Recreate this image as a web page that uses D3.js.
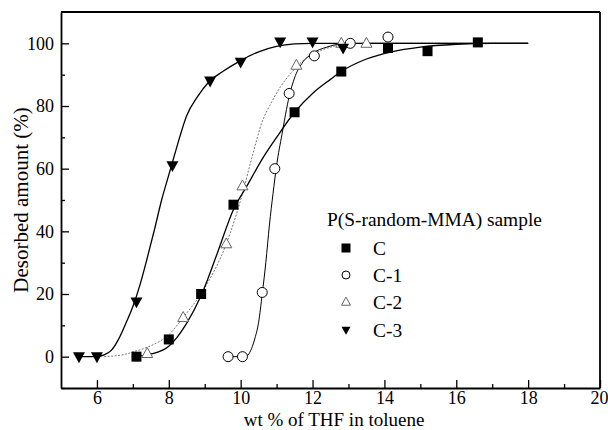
<!DOCTYPE html>
<html>
<head>
<meta charset="utf-8">
<script src="https://cdn.jsdelivr.net/npm/d3@7"></script>
<style>
  body { margin: 0; background: #fff; }
</style>
</head>
<body>
<svg id="chart" width="608" height="430"></svg>
<script>
var seriesNames = ["C", "C-1", "C-2", "C-3"]

var cX = [7.1, 8.0, 8.9, 9.8, 11.5, 12.8, 14.1, 15.2, 16.6]
var cY = [0, 5.5, 20, 48.5, 78, 91, 98.5, 97.5, 100.3]

var c1X = [9.65, 10.05, 10.6, 10.95, 11.35, 12.05, 13.05, 14.1]
var c1Y = [0, 0, 20.5, 60, 84, 96, 100, 102]

var c2X = [7.4, 8.4, 9.6, 10.05, 11.55, 12.8, 13.5]
var c2Y = [1, 12.5, 36, 54.5, 93, 100, 100]

var c3X = [5.5, 6.0, 7.1, 8.1, 9.15, 10.0, 11.1, 12.0, 12.85]
var c3Y = [0, 0, 17.5, 61, 88, 94, 100.5, 100.5, 98.5]

// fitted curves
var fitCX = [6.97, 7.5, 8.0, 8.5, 8.9, 9.35, 9.8, 10.15, 10.65, 11.0, 11.5, 12.0, 12.5, 12.8, 13.5, 14.2, 15.0, 16.0, 17.0, 18.0]
var fitCY = [0, 0.8, 3.3, 10.7, 19.5, 33, 47, 54, 64, 70, 78, 84, 88.5, 91, 95, 97.3, 98.8, 99.7, 100, 100]

var fitC1X = [9.65, 10.1, 10.2, 10.3, 10.4, 10.5, 10.6, 10.7, 10.8, 10.9, 11.0, 11.15, 11.35, 11.5, 11.7, 12.0, 12.4, 12.8, 13.5, 18.0]
var fitC1Y = [0, 0, 0.5, 2.5, 6, 11, 20, 30, 42, 52, 61, 71, 83, 89, 93.5, 96.8, 98.8, 99.8, 100, 100]

var fitC2X = [6.2, 6.8, 7.0, 7.5, 8.0, 8.4, 9.0, 9.6, 10.05, 10.3, 10.6, 10.85, 11.1, 11.4, 11.85, 12.3, 12.8, 13.5, 18.0]
var fitC2Y = [0, 0.8, 1.5, 3.5, 7, 12.5, 22, 36, 52, 63, 75, 81, 86, 90.5, 95.5, 98, 99.5, 100, 100]

var fitC3X = [5.5, 6.0, 6.2, 6.4, 6.6, 6.8, 7.0, 7.2, 7.4, 7.6, 7.8, 8.0, 8.2, 8.5, 8.8, 9.1, 9.5, 10.0, 10.5, 11.0, 11.5, 12.0, 18.0]
var fitC3Y = [0, 0, 0.6, 2, 5.5, 10.5, 16, 23, 31.5, 40.5, 50, 58, 66, 77, 83, 87.5, 91, 94.5, 97.3, 99, 99.8, 100, 100]

var xMajor = [6, 8, 10, 12, 14, 16, 18, 20]
var xMinor = [7, 9, 11, 13, 15, 17, 19]
var yMajor = [0, 20, 40, 60, 80, 100]
var yMinor = [-10, 10, 30, 50, 70, 90]

var FONT = "'Liberation Serif', 'Times New Roman', 'DejaVu Serif', serif"

var svg = d3.select("#chart")
var mLeft = 61, mRight = 600, mTop = 12, mBottom = 388

var x = d3.scaleLinear().domain([5, 20]).range([mLeft, mRight])
var y = d3.scaleLinear().domain([-10, 110]).range([mBottom, mTop])

function zip(a, b) {
  return a.map(function(v, i) { return [v, b[i]] })
}

// fitted curves
var line = d3.line()
  .x(function(d) { return x(d[0]) })
  .y(function(d) { return y(d[1]) })
  .curve(d3.curveMonotoneX)

var curves = [
  {pts: zip(fitC2X, fitC2Y), stroke: "#777", width: 1, dash: "2,1.5"},
  {pts: zip(fitCX, fitCY), stroke: "#000", width: 1.3, dash: null},
  {pts: zip(fitC1X, fitC1Y), stroke: "#000", width: 1, dash: null},
  {pts: zip(fitC3X, fitC3Y), stroke: "#000", width: 1.3, dash: null}
]

curves.forEach(function(c) {
  svg.append("path")
    .attr("d", line(c.pts))
    .attr("fill", "none")
    .attr("stroke", c.stroke)
    .attr("stroke-width", c.width)
    .attr("stroke-dasharray", c.dash)
})

// marker shapes
function drawMarker(g, kind, s) {
  if (kind == "square") {
    g.append("rect").attr("x", -s / 2).attr("y", -s / 2).attr("width", s).attr("height", s)
      .attr("fill", "#000")
  } else if (kind == "circle") {
    g.append("circle").attr("r", s / 2).attr("fill", "#fff").attr("stroke", "#000").attr("stroke-width", 1)
  } else if (kind == "triangle") {
    var h = s * 0.9
    g.append("path").attr("d", "M0," + (-h * 0.6) + "L" + (s / 2) + "," + (h * 0.4) + "L" + (-s / 2) + "," + (h * 0.4) + "Z")
      .attr("fill", "#fff").attr("stroke", "#666").attr("stroke-width", 1)
  } else {
    var h2 = s * 0.9
    g.append("path").attr("d", "M0," + (h2 * 0.6) + "L" + (s / 2) + "," + (-h2 * 0.4) + "L" + (-s / 2) + "," + (-h2 * 0.4) + "Z")
      .attr("fill", "#000")
  }
}

var series = [
  {name: seriesNames[0], pts: zip(cX, cY), kind: "square", size: 10},
  {name: seriesNames[1], pts: zip(c1X, c1Y), kind: "circle", size: 10},
  {name: seriesNames[2], pts: zip(c2X, c2Y), kind: "triangle", size: 11},
  {name: seriesNames[3], pts: zip(c3X, c3Y), kind: "down", size: 12}
]

series.forEach(function(s) {
  svg.append("g").selectAll("g")
    .data(s.pts)
    .enter().append("g")
    .attr("transform", function(d) { return "translate(" + x(d[0]) + "," + y(d[1]) + ")" })
    .each(function() { drawMarker(d3.select(this), s.kind, s.size) })
})

// axes, ticks pointing inward
var axX = svg.append("g").attr("transform", "translate(0," + mBottom + ")")
  .call(d3.axisBottom(x).tickValues(xMajor).tickSizeInner(-8).tickSizeOuter(0).tickPadding(3).tickFormat(d3.format("d")))
svg.append("g").attr("transform", "translate(0," + mBottom + ")")
  .call(d3.axisBottom(x).tickValues(xMinor).tickSizeInner(-4).tickSizeOuter(0).tickFormat(""))
  .select(".domain").remove()

var axY = svg.append("g").attr("transform", "translate(" + mLeft + ",0)")
  .call(d3.axisLeft(y).tickValues(yMajor).tickSizeInner(-8).tickSizeOuter(0).tickPadding(7).tickFormat(d3.format("d")))
svg.append("g").attr("transform", "translate(" + mLeft + ",0)")
  .call(d3.axisLeft(y).tickValues(yMinor).tickSizeInner(-4).tickSizeOuter(0).tickFormat(""))
  .select(".domain").remove()

svg.selectAll(".tick line").attr("stroke", "#000").attr("stroke-width", 1.3)
svg.selectAll(".domain").attr("stroke", "#000").attr("stroke-width", 1.8)
axX.attr("font-family", FONT).attr("font-size", 18)
axY.attr("font-family", FONT).attr("font-size", 18)
// keep the last label inside the page
axX.selectAll(".tick text").filter(function(d) { return d == 20 }).attr("text-anchor", "end").attr("dx", 8)

// frame top and right
svg.append("line").attr("x1", mLeft).attr("x2", mRight).attr("y1", mTop).attr("y2", mTop)
  .attr("stroke", "#000").attr("stroke-width", 1.8)
svg.append("line").attr("x1", mRight).attr("x2", mRight).attr("y1", mTop).attr("y2", mBottom)
  .attr("stroke", "#000").attr("stroke-width", 1.8)

// titles
svg.append("text").attr("x", 334).attr("y", 426)
  .attr("text-anchor", "middle").attr("font-family", FONT).attr("font-size", 19)
  .text("wt % of THF in toluene")
svg.append("text").attr("transform", "translate(28," + ((mTop + mBottom) / 2) + ") rotate(-90)")
  .attr("text-anchor", "middle").attr("font-family", FONT).attr("font-size", 21)
  .text("Desorbed amount (%)")

// legend
var legend = svg.append("g").attr("font-family", FONT).attr("font-size", 19.4)
legend.append("text").attr("x", 327).attr("y", 226)
  .text("P(S-random-MMA) sample")

var rowY = [248, 275, 302, 330]
series.forEach(function(s, i) {
  var g = legend.append("g").attr("transform", "translate(346," + rowY[i] + ")")
  drawMarker(g, s.kind, s.kind == "circle" ? 8 : 9)
  legend.append("text").attr("x", 373).attr("y", rowY[i]).attr("dy", "0.35em")
    .text(s.name)
})
</script>
</body>
</html>
